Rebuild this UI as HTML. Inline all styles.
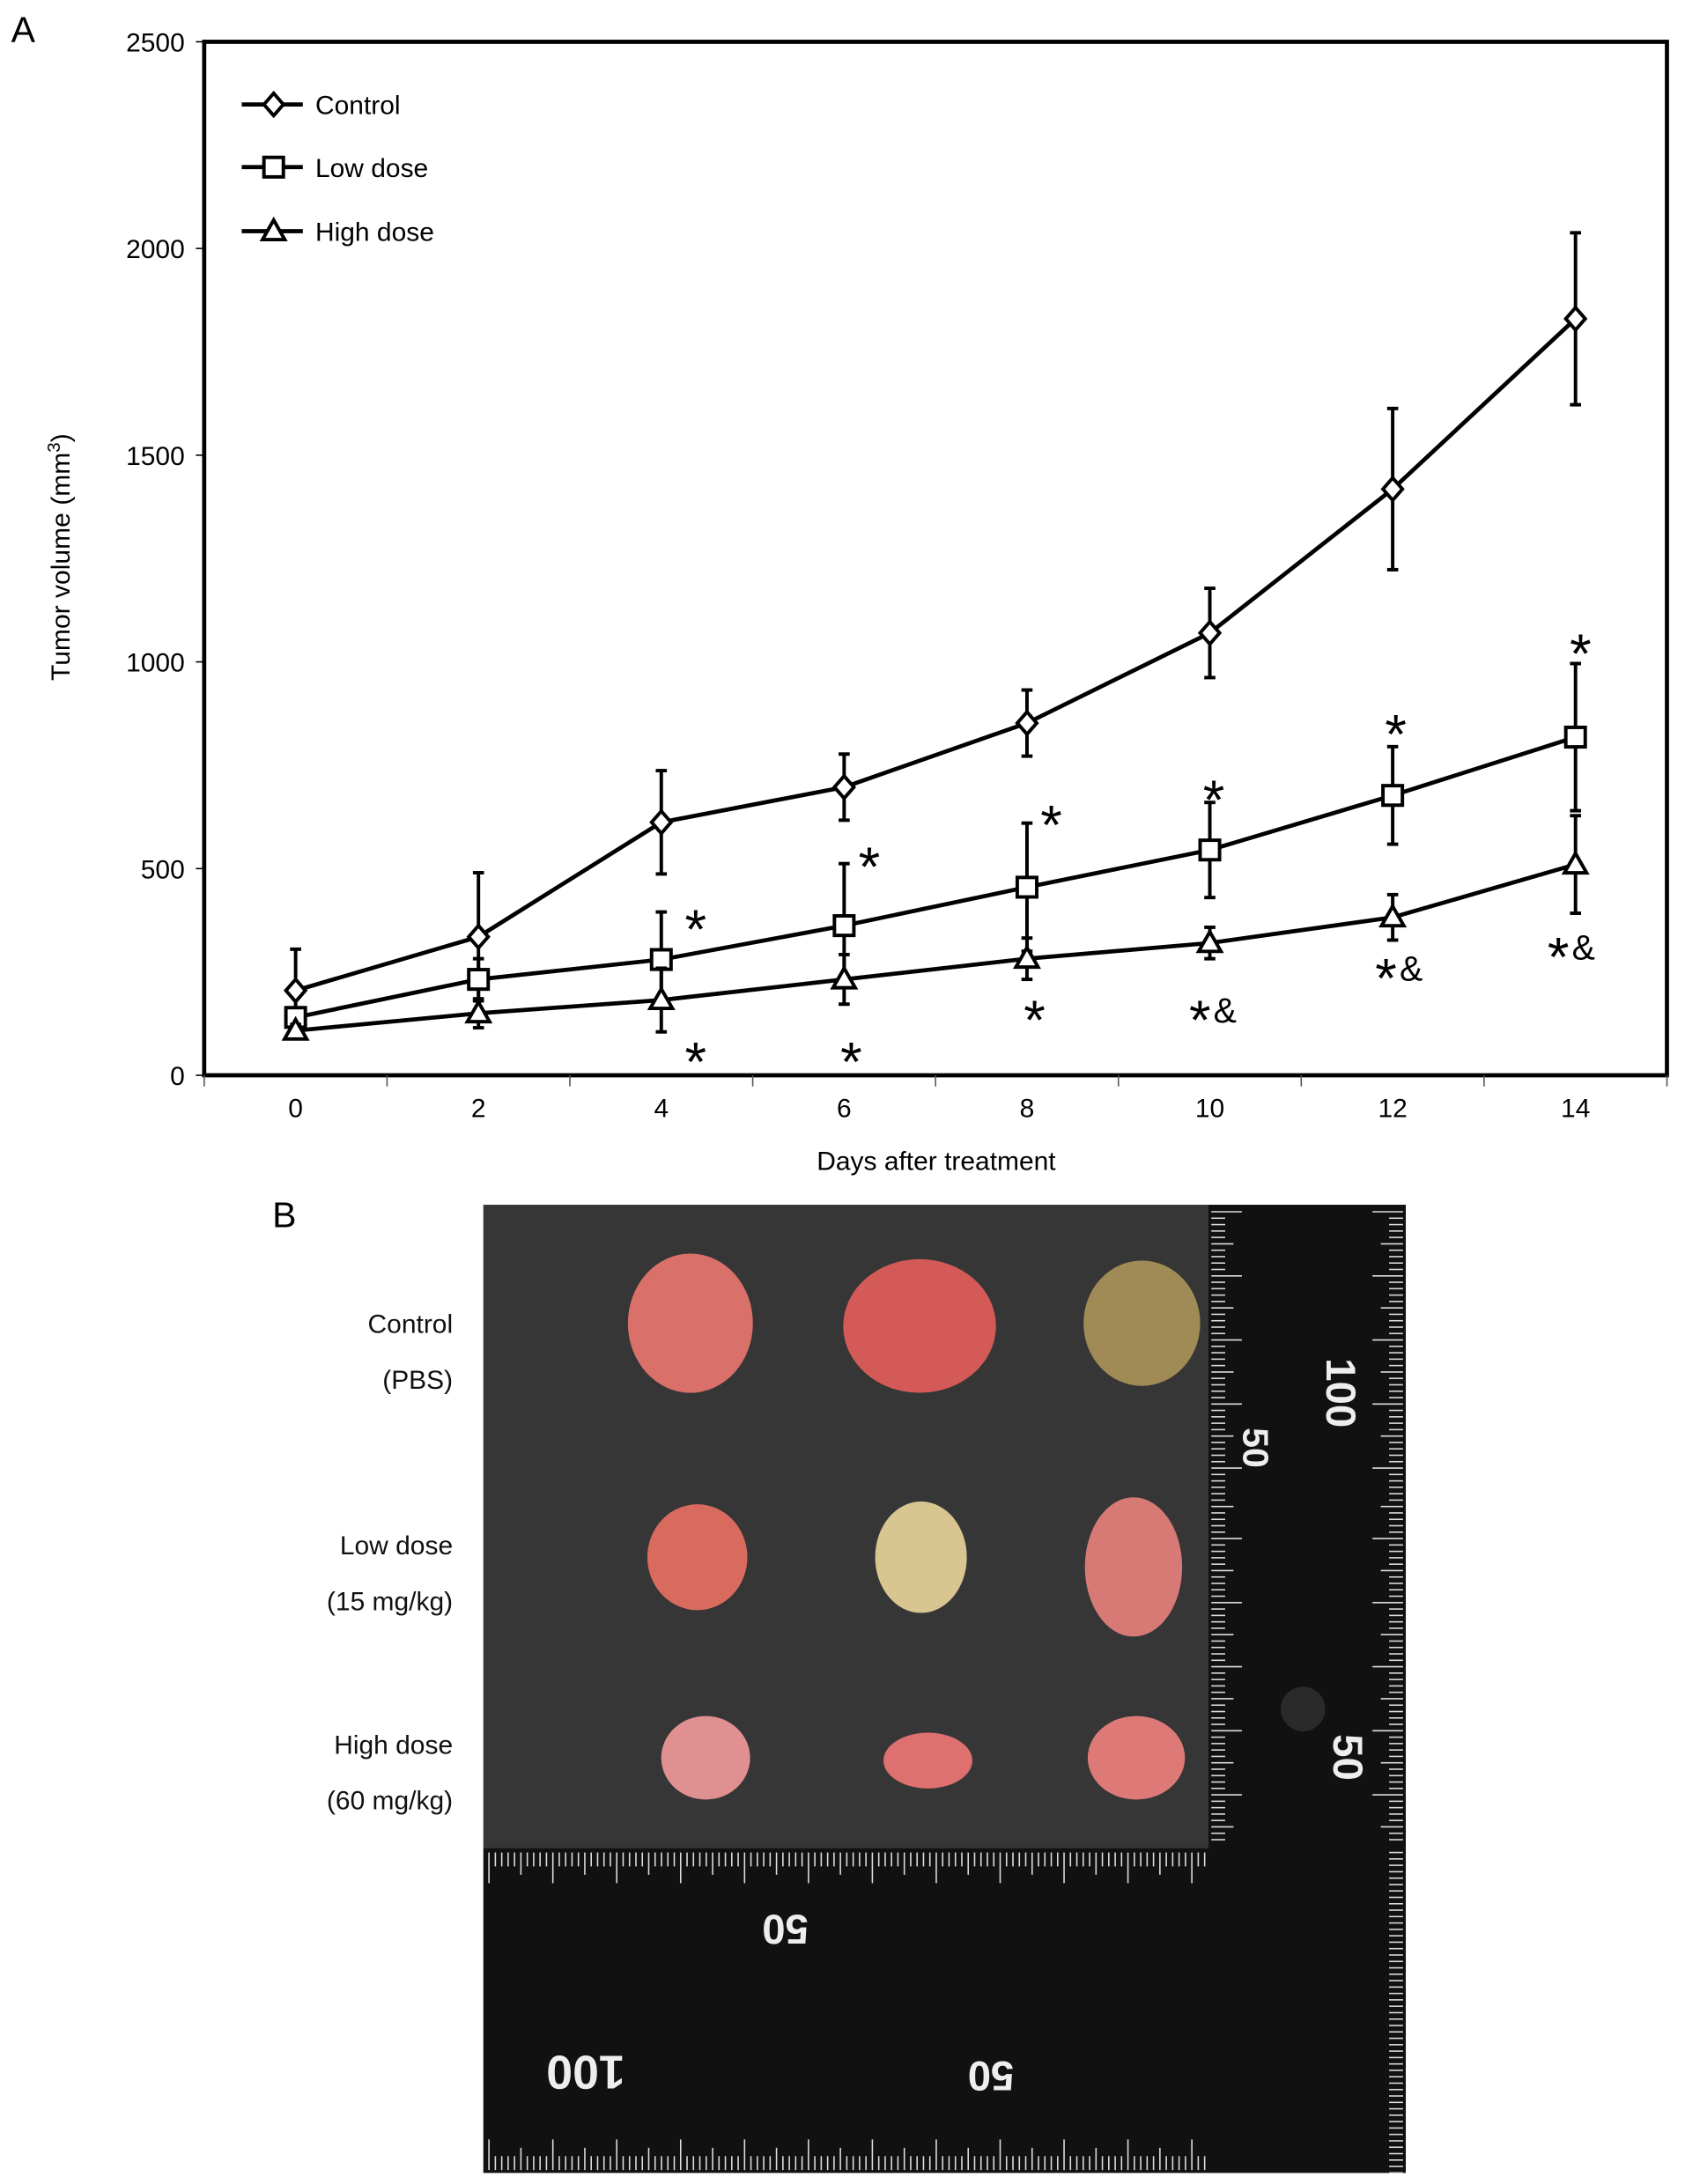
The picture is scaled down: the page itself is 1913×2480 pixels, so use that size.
<!DOCTYPE html>
<html><head><meta charset="utf-8"><style>
html,body{margin:0;padding:0;background:#fff;}
svg{display:block;font-family:"Liberation Sans",Arial,sans-serif;}
</style></head><body>
<svg id="fig" width="1913" height="2480" viewBox="0 0 1213 1568" preserveAspectRatio="none" xmlns="http://www.w3.org/2000/svg">
<rect width="1213" height="1568" fill="#fff"/>
<text x="8" y="30" font-size="26">A</text>
<g id="chart"></g>
<text x="196" y="881" font-size="26">B</text>
<g id="photo">
  <rect x="348" y="865" width="664" height="695" fill="#2b2b2b"/>
  <rect x="348" y="865" width="522" height="462" fill="#363636"/>
  <rect x="870" y="865" width="142" height="695" fill="#111"/>
  <rect x="348" y="1327" width="664" height="233" fill="#111"/>
  <g id="ticks" stroke="#ddd" stroke-width="1"></g>
  <circle cx="938" cy="1227" r="16" fill="#2a2a2a"/>
  <g fill="#eee" font-weight="bold" font-size="18">
    <text x="955" y="975" font-size="30" transform="rotate(90 955 975)">100</text>
    <text x="895" y="1025" font-size="26" transform="rotate(90 895 1025)">50</text>
    <text x="960" y="1245" font-size="30" transform="rotate(90 960 1245)">50</text>
    <text x="380" y="1500" font-size="34" transform="rotate(180 415 1488)">100</text>
    <text x="690" y="1500" font-size="30" transform="rotate(180 710 1490)">50</text>
    <text x="548" y="1395" font-size="30" transform="rotate(180 565 1385)">50</text>
  </g>
  <g id="tumors"></g>
</g>
<g font-size="19" text-anchor="end" fill="#111">
  <text x="326" y="957">Control</text>
  <text x="326" y="997">(PBS)</text>
  <text x="326" y="1116">Low dose</text>
  <text x="326" y="1156">(15 mg/kg)</text>
  <text x="326" y="1259">High dose</text>
  <text x="326" y="1299">(60 mg/kg)</text>
</g>
</svg>
<script>
const days=[0,2,4,6,8,10,12,14];
const yTicks=[0,500,1000,1500,2000,2500];
const control=[205,335,612,697,852,1070,1418,1830];
const controlErr=[100,155,125,80,80,108,195,208];
const low=[140,232,280,362,455,545,677,818];
const lowErr=[20,50,115,150,155,115,118,178];
const high=[108,150,182,232,282,320,382,510];
const highErr=[15,35,77,60,50,38,55,118];
const NS='http://www.w3.org/2000/svg';
const L=147,R=1200,T=30,B=772;
const xs=i=>L+(R-L)/days.length*(i+0.5);
const ys=v=>B-(B-T)*v/2500;
const g=document.getElementById('chart');
function mk(tag,at,parent){const e=document.createElementNS(NS,tag);for(const k in at)e.setAttribute(k,at[k]);(parent||g).appendChild(e);return e;}
let e=mk('rect',{x:L,y:T,width:R-L,height:B-T,fill:'none',stroke:'#000','stroke-width':3});


yTicks.forEach(t=>{mk('line',{x1:L-6,x2:L,y1:ys(t),y2:ys(t),stroke:'#000'});
 let tx=mk('text',{x:L-14,y:ys(t)+7,'font-size':19,'text-anchor':'end'});tx.textContent=t;
 
 });
for(let i=0;i<=days.length;i++){const x=L+(R-L)/days.length*i;mk('line',{x1:x,x2:x,y1:B,y2:B+8,stroke:'#555'});}
days.forEach((d,i)=>{let tx=mk('text',{x:xs(i),y:B+30,'font-size':19,'text-anchor':'middle'});tx.textContent=d;
 
 });
let xt=mk('text',{x:674,y:840,'font-size':19,'text-anchor':'middle'});xt.textContent='Days after treatment';


let yt=mk('text',{x:0,y:0,'font-size':19,'text-anchor':'middle',transform:'translate(50 400) rotate(-90)'});
yt.innerHTML='Tumor volume (mm<tspan dy="-7" font-size="13">3</tspan><tspan dy="7">)</tspan>';


function marker(type,x,y,parent){
 if(type==='d')return mk('polygon',{points:`${x},${y-8} ${x+7},${y} ${x},${y+8} ${x-7},${y}`,fill:'#fff',stroke:'#000','stroke-width':2.5},parent);
 if(type==='s')return mk('rect',{x:x-7,y:y-7,width:14,height:14,fill:'#fff',stroke:'#000','stroke-width':2.5},parent);
 return mk('polygon',{points:`${x},${y-8} ${x+8},${y+6} ${x-8},${y+6}`,fill:'#fff',stroke:'#000','stroke-width':2.5},parent);
}
function series(vals,errs,type,name){
 const sg=mk('g',{});
 
 
 vals.forEach((v,i)=>{const x=xs(i);
  mk('line',{x1:x,x2:x,y1:ys(v+errs[i]),y2:ys(v-errs[i]),stroke:'#000','stroke-width':2.5},sg);
  [v+errs[i],v-errs[i]].forEach(w=>mk('line',{x1:x-4,x2:x+4,y1:ys(w),y2:ys(w),stroke:'#000','stroke-width':2.5},sg));});
 mk('polyline',{points:vals.map((v,i)=>xs(i)+','+ys(v)).join(' '),fill:'none',stroke:'#000','stroke-width':3},sg);
 vals.forEach((v,i)=>{const m=marker(type,xs(i),ys(v),sg);
  
  });
}
series(control,controlErr,'d','control-series');
series(low,lowErr,'s','low-dose-series');
series(high,highErr,'t','high-dose-series');
[['d','Control',75],['s','Low dose',120],['t','High dose',166]].forEach(([t,n,y])=>{
 const lg=mk('g',{});
 
 
 mk('line',{x1:174,x2:218,y1:y,y2:y,stroke:'#000','stroke-width':3},lg);
 marker(t,197,y,lg);
 const tx=mk('text',{x:227,y:y+7,'font-size':19},lg);tx.textContent=n;});
const ann=[['*',485,667],['*',485,762],['*',610,622],['*',597,762],['*',741,592],['*',729,732],['*',858,574],['*&',848,732],['*',989,527],['*&',982,702],['*',1122,469],['*&',1106,687]];
ann.forEach(([s,x,y])=>{const tx=mk('text',{x:x+8,y:y+14,'font-size':40,'text-anchor':'start'});
 tx.innerHTML=s.replace('&','<tspan font-size="25" dx="2" dy="-12">&amp;</tspan>');
 
 });
const tk=document.getElementById('ticks');
for(let y=870;y<1325;y+=4.6){const len=((y-870)/4.6)%10<1?22:(((y-870)/4.6)%5<1?16:10);mk('line',{x1:872,x2:872+len,y1:y,y2:y},tk);mk('line',{x1:1010-len,x2:1010,y1:y,y2:y},tk);}
for(let y=1330;y<1560;y+=4.6){mk('line',{x1:1000,x2:1010,y1:y,y2:y},tk);}
for(let x=352;x<868;x+=4.6){const len=Math.round((x-352)/4.6)%10===0?22:(Math.round((x-352)/4.6)%5===0?16:10);mk('line',{x1:x,x2:x,y1:1330,y2:1330+len},tk);mk('line',{x1:x,x2:x,y1:1558-len,y2:1558},tk);}
const tm=document.getElementById('tumors');
[[497,950,45,50,'#d9706a'],[662,952,55,48,'#d45a58'],[822,950,42,45,'#a08a55'],[502,1118,36,38,'#d96a5e'],[663,1118,33,40,'#d8c590'],[816,1125,35,50,'#d77a75'],[508,1262,32,30,'#e09090'],[668,1264,32,20,'#de7070'],[818,1262,35,30,'#dd7a78']].forEach(([x,y,rx,ry,c])=>{
 const el=mk('ellipse',{cx:x,cy:y,rx:rx,ry:ry,fill:c},tm);
 
 });
</script>
</body></html>
